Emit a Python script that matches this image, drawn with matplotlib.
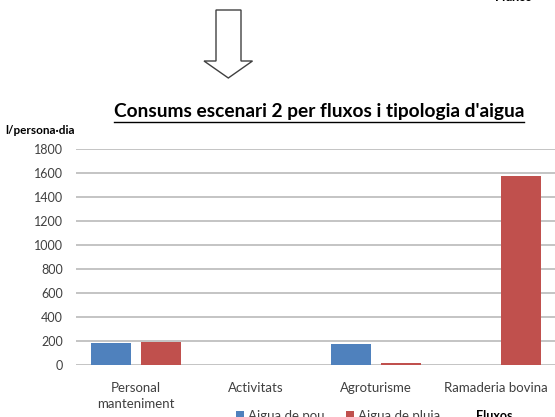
#Importing Matplotlib for plotting the chart
import matplotlib
matplotlib.use("Agg")
import matplotlib.pyplot as plt
#Importing patches for the arrow and the legend boxes
from matplotlib.patches import Polygon, Patch
from matplotlib.lines import Line2D
#Importing NumPy for bar positions
import numpy as np

#Chart data
categories = ["Personal\nmanteniment", "Activitats", "Agroturisme", "Ramaderia bovina"]
aigua_pou = [181, 0, 173, 0]
aigua_pluja = [195, 0, 20, 1572]
series_names = ["Aigua de pou", "Aigua de pluja"]
y_ticks = [0, 200, 400, 600, 800, 1000, 1200, 1400, 1600, 1800]

#Colours similar to the old Excel palette
BLUE = "#4F81BD"
RED = "#C0504D"
GRID = "#BFBFBF"
TEXT = "#404040"

plt.rcParams['font.family'] = ['Lato', 'DejaVu Sans']

W, H = 555, 417
fig = plt.figure(figsize=(W / 100, H / 100), dpi=100)

#Helper to convert pixel coords (from top-left) to figure fraction
def fx(px):
    return px / W

def fy(py):
    return 1 - py / H

#Axes placed so that the category area spans the image width
ax = fig.add_axes([fx(76), fy(365), (556 - 76) / W, (365 - 148.6) / H])

x = np.arange(len(categories))
bar_w = 0.33
off = 0.207
ax.bar(x - off, aigua_pou, width=bar_w, color=BLUE, label=series_names[0], zorder=3)
ax.bar(x + off, aigua_pluja, width=bar_w, color=RED, label=series_names[1], zorder=3)

ax.set_xlim(-0.5, 3.5)
ax.set_ylim(0, 1800)
ax.set_yticks(y_ticks)
ax.set_yticklabels([str(v) for v in y_ticks], fontsize=9, color=TEXT)
ax.set_xticks(x)
ax.set_xticklabels(categories, fontsize=9.5, color=TEXT, linespacing=1.45)
ax.tick_params(axis='y', length=0, pad=9.5)
ax.tick_params(axis='x', length=0, pad=12)
ax.grid(axis='y', color=GRID, linewidth=1.3, zorder=0)
for s in ax.spines.values():
    s.set_visible(False)

#Title, bold and underlined
title = fig.text(fx(319), fy(112), "Consums escenari 2 per fluxos i tipologia d'aigua",
                 ha='center', va='center', fontsize=13.8, fontweight='bold', color='black')
fig.canvas.draw()
bb = title.get_window_extent()
fig.add_artist(Line2D([bb.x0 / W, bb.x1 / W], [fy(121.5), fy(121.5)], color='black', linewidth=1.0))

#Y axis unit label
fig.text(fx(5), fy(130), "l/persona·dia", ha='left', va='center', fontsize=8.5, fontweight='bold', color='black')

#Legend at the bottom (partly cut off like the picture)
handles = [Patch(facecolor=BLUE), Patch(facecolor=RED)]
fig.legend(handles, series_names, loc='center', bbox_to_anchor=(fx(338), fy(416)), ncol=2,
           frameon=False, fontsize=9.5, handlelength=0.65, handleheight=0.65, handletextpad=0.3,
           columnspacing=1.6, labelcolor=TEXT)
fig.text(fx(476), fy(416), "Fluxos", ha='left', va='center', fontsize=9, fontweight='bold', color='black')

#Cut off text of the chart above
fig.text(fx(495), fy(-3), "Fluxos", ha='left', va='center', fontsize=9, fontweight='bold', color='black')

#Big outlined arrow pointing down
arrow_px = [(216, 10), (241, 10), (241, 61), (252.5, 61), (228.3, 78), (204, 61), (216, 61)]
arrow = Polygon([(fx(px), fy(py)) for px, py in arrow_px], closed=True, facecolor='white',
                edgecolor='#404040', linewidth=1.0, transform=fig.transFigure)
fig.add_artist(arrow)

fig.savefig("out.png", dpi=100)
